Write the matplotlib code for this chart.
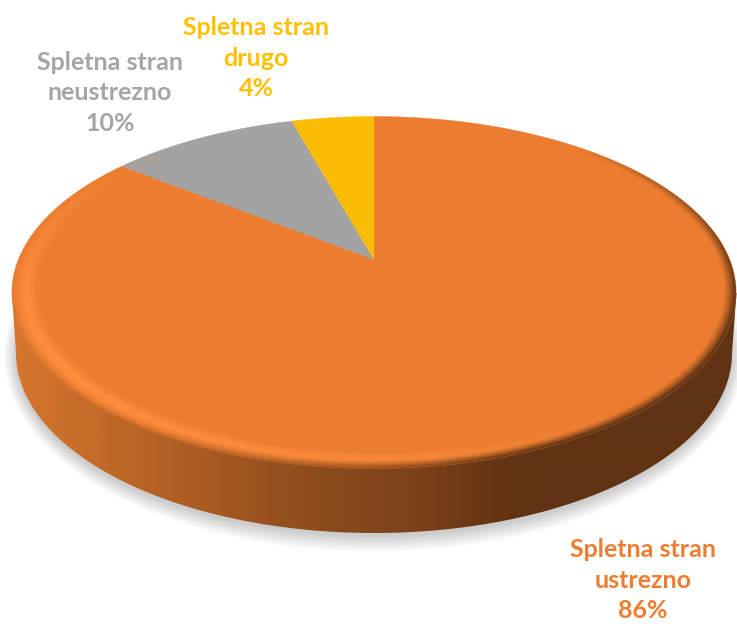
import numpy as np
import matplotlib
matplotlib.use("Agg")
import matplotlib.pyplot as plt
from matplotlib.patches import Polygon
from matplotlib.colors import LinearSegmentedColormap

# Data
categories = ["Spletna stran\nustrezno", "Spletna stran\nneustrezno", "Spletna stran\ndrugo"]
values = [85.5, 10.1, 4.4]
percent_labels = ["86%", "10%", "4%"]
colors = ["#EB7C30", "#A3A3A3", "#FBBC05"]
text_colors = ["#ED7D31", "#A5A5A5", "#FFC000"]
label_centers = [(643, 580), (110, 93), (256, 58)]

W, H = 737, 626
APEX = (374.0, 259.5)
A, B, K = 355.6, 169.8, 0.1875   # perspective projection of the disc


def project(u, v):
    d = 1 + K * v
    return APEX[0] + A * u / d, APEX[1] - B * v / d


fig = plt.figure(figsize=(W / 100, H / 100), dpi=100)
ax = fig.add_axes([0, 0, 1, 1])
ax.set_xlim(0, W)
ax.set_ylim(H, 0)
ax.axis("off")

# soft shadow under the disc
bcx, bcy, brx, bry = 374.0, 353.0, 358.0, 180.0
t = np.linspace(0, 2 * np.pi, 400)
for g in np.linspace(16, 0, 17):
    ax.add_patch(Polygon(np.c_[bcx + (brx + g * 0.75) * np.cos(t),
                              bcy + 3 + (bry + g) * np.sin(t)],
                         closed=True, fc="#000000", ec="none", alpha=0.013, zorder=1))

# side wall with horizontal gradient
tb = np.linspace(0, np.pi, 300)
top_y = 293.0
side = np.r_[np.c_[bcx + brx * np.cos(tb), bcy + bry * np.sin(tb)],
             [[12, top_y]], [[736.5, top_y]]]
side_patch = Polygon(side, closed=True, fc="none", ec="none", zorder=2)
ax.add_patch(side_patch)
cmap = LinearSegmentedColormap.from_list("side", [
    (0.0, "#D9782F"), (0.12, "#C56C28"), (0.28, "#A95B22"), (0.42, "#8E4C1D"),
    (0.56, "#7D4219"), (0.68, "#643413"), (0.75, "#5F3313"), (1.0, "#5F3313")])
grad = np.linspace(0, 1, W).reshape(1, -1)
im = ax.imshow(grad, extent=(0, W, H, 0), cmap=cmap, aspect="auto", zorder=2,
               interpolation="bilinear")
im.set_clip_path(side_patch)

# top face: slices built from the values, clockwise from 12 o'clock
total = sum(values)
angle = 0.0
for i in range(len(values)):
    sweep = values[i] / total * 2 * np.pi
    th = np.linspace(angle, angle + sweep, 300)
    x, y = project(np.sin(th), np.cos(th))
    ax.add_patch(Polygon(np.r_[[APEX], np.c_[x, y]], closed=True,
                         fc=colors[i], ec=colors[i], lw=0.3, zorder=3))
    angle += sweep

# bevel on the rim of the disc
yy, xx = np.mgrid[0:H * 2, 0:W * 2]
PX = (xx + 0.5) / 2
X = PX - APEX[0]
Y = APEX[1] - (yy + 0.5) / 2
v = Y / (B - K * Y)
u = X * (1 + K * v) / A
r = np.hypot(u, v)
rr = np.maximum(r, 1e-6)
du, dv = u / rr, v / rr
s = np.clip((r - 0.925) / 0.075, 0, 1)
light = np.clip(du * -0.75 + dv * -0.66, 0, 1) ** 1.2
dark = np.clip(du * 0.72 + dv * -0.69 + 0.05, 0, 1) ** 0.8
lower = np.clip(-dv * 3 + 0.1, 0, 1)
hi = np.exp(-((s - 0.5) / 0.3) ** 2) * light
ds = np.clip((s - 0.55) / 0.4, 0, 1) ** 1.3 * dark
edge = np.clip((s - 0.82) / 0.18, 0, 1) ** 1.5 * lower
ds = np.maximum(ds, edge)
c_hi = np.array([1.0, 0.56, 0.24])
c_dk = cmap(PX / W)[..., :3]
alpha = np.clip(hi + ds, 0, 1)
w = ds / np.maximum(hi + ds, 1e-6)
rgba = np.zeros((H * 2, W * 2, 4))
for c in range(3):
    rgba[..., c] = c_hi[c] * (1 - w) + c_dk[..., c] * w
rgba[..., 3] = alpha * ((r >= 0.925) & (r <= 1.0))
ax.imshow(rgba, extent=(0, W, H, 0), aspect="auto", zorder=4, interpolation="bilinear")
ax.set_xlim(0, W)
ax.set_ylim(H, 0)

# labels
for name, pct, col, (cx, cy) in zip(categories, percent_labels, text_colors, label_centers):
    ax.text(cx, cy, name + "\n" + pct, color=col, ha="center", va="center",
            fontsize=18, fontweight="bold", family="Lato", linespacing=1.38, zorder=5)

fig.savefig("out.png", dpi=100)
